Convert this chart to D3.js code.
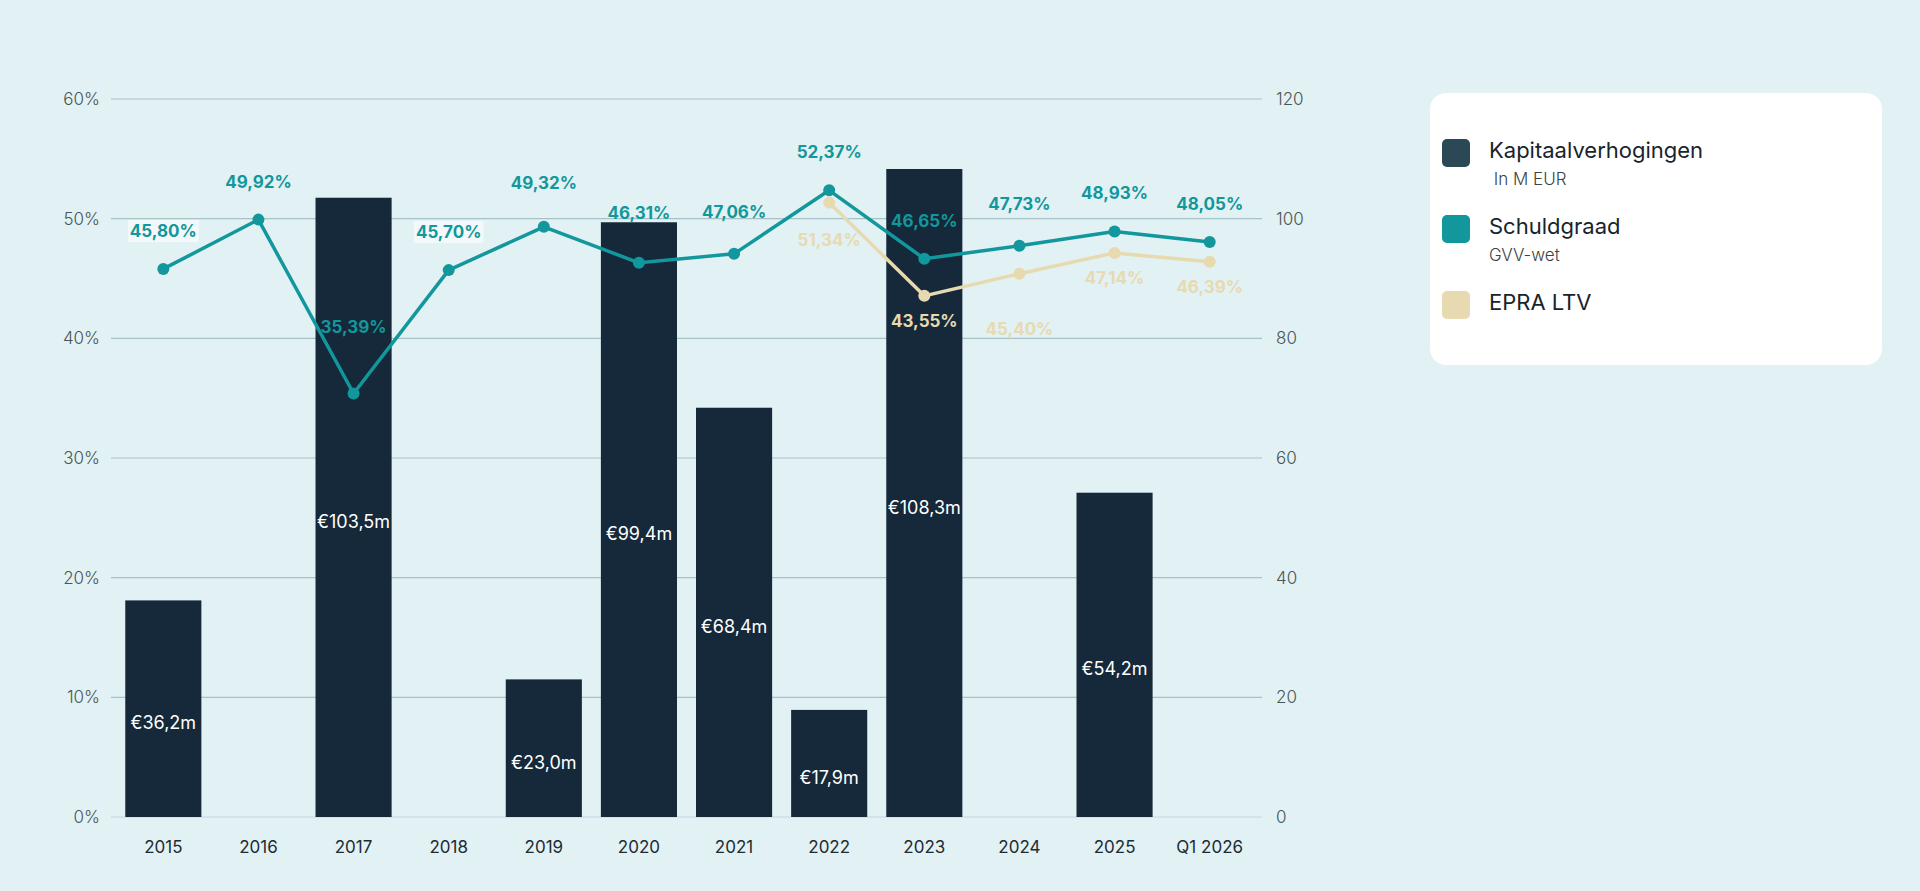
<!DOCTYPE html>
<html>
<head>
<meta charset="utf-8">
<script src="https://cdn.jsdelivr.net/npm/d3@7"></script>
<style>
  html, body { margin: 0; padding: 0; background: #e2f1f3; }
  #chart { width: 1920px; height: 891px; }
  text { font-family: Inter, "Noto Sans", sans-serif; }
</style>
</head>
<body>
<div id="chart"></div>
<script>
// data
const years = ['2015', '2016', '2017', '2018', '2019', '2020', '2021', '2022', '2023', '2024', '2025', 'Q1 2026'];
const kapitaal = [36.2, null, 103.5, null, 23.0, 99.4, 68.4, 17.9, 108.3, null, 54.2, null];
const schuldgraad = [45.80, 49.92, 35.39, 45.70, 49.32, 46.31, 47.06, 52.37, 46.65, 47.73, 48.93, 48.05];
const epraLtv = [null, null, null, null, null, null, null, 51.34, 43.55, 45.40, 47.14, 46.39];
const leftTicks = [0, 10, 20, 30, 40, 50, 60];
const rightTicks = [0, 20, 40, 60, 80, 100, 120];

// layout: extra label shifts (px) where the original moved labels apart
const schuldShift = { '2017': -28, '2019': -6, '2020': -12, '2021': -4, '2024': -4 };
const epraShift = { '2022': 12, '2024': 30 };
const boxedLabels = ['2015', '2018'];

const colors = {
  bar: '#15293a',
  teal: '#11979c',
  beige: '#e7dab0',
  grid: '#a8c3c7',
  tick: '#4a5558',
  axisText: '#1d2b33'
};

const fmt = v => v.toFixed(2).replace('.', ',') + '%';
const fmtM = v => '€' + v.toFixed(1).replace('.', ',') + 'm';

const W = 1920, H = 891;
const plot = { left: 111, right: 1262, top: 99, bottom: 817 };

const svg = d3.select('#chart').append('svg')
  .attr('width', W).attr('height', H);

const x = d3.scaleBand()
  .domain(years)
  .range([plot.left, plot.right])
  .paddingInner(0.2)
  .paddingOuter(0.15);

const yL = d3.scaleLinear().domain([0, 60]).range([plot.bottom, plot.top]);
const yR = d3.scaleLinear().domain([0, 120]).range([plot.bottom, plot.top]);

// gridlines
svg.append('g')
  .selectAll('line')
  .data(leftTicks)
  .join('line')
  .attr('x1', plot.left).attr('x2', plot.right)
  .attr('y1', d => yL(d)).attr('y2', d => yL(d))
  .attr('stroke', (d, i) => i === 0 ? '#c2d8db' : colors.grid)
  .attr('stroke-width', 1.2);

// left axis
const axL = svg.append('g')
  .attr('transform', `translate(${plot.left},0)`)
  .call(d3.axisLeft(yL).tickValues(leftTicks).tickSize(0).tickPadding(11).tickFormat(d => d + '%'));
axL.select('.domain').remove();
axL.selectAll('text')
  .attr('fill', colors.tick)
  .style('font-size', '17px')
  .style('font-weight', 300);

// right axis
const axR = svg.append('g')
  .attr('transform', `translate(${plot.right},0)`)
  .call(d3.axisRight(yR).tickValues(rightTicks).tickSize(0).tickPadding(14));
axR.select('.domain').remove();
axR.selectAll('text')
  .attr('fill', colors.tick)
  .style('font-size', '17px')
  .style('font-weight', 300);

// bottom axis
const axB = svg.append('g')
  .attr('transform', `translate(0,${plot.bottom})`)
  .call(d3.axisBottom(x).tickSize(0).tickPadding(24));
axB.select('.domain').remove();
axB.selectAll('text')
  .attr('fill', colors.axisText)
  .style('font-size', '17px')
  .style('font-weight', 400);

// bars
const barData = years.map((y, i) => ({ year: y, value: kapitaal[i] })).filter(d => d.value != null);

svg.append('g')
  .selectAll('rect')
  .data(barData)
  .join('rect')
  .attr('x', d => x(d.year))
  .attr('y', d => yR(d.value))
  .attr('width', x.bandwidth())
  .attr('height', d => plot.bottom - yR(d.value))
  .attr('fill', colors.bar);

svg.append('g')
  .selectAll('text')
  .data(barData)
  .join('text')
  .attr('x', d => x(d.year) + x.bandwidth() / 2)
  .attr('y', d => (yR(d.value) + plot.bottom) / 2 + 14)
  .attr('text-anchor', 'middle')
  .attr('dominant-baseline', 'central')
  .attr('fill', '#ffffff')
  .style('font-size', '18px')
  .text(d => fmtM(d.value));

// lines
const cx = d => x(d.year) + x.bandwidth() / 2;
const schuldData = years.map((y, i) => ({ year: y, value: schuldgraad[i] }));
const epraData = years.map((y, i) => ({ year: y, value: epraLtv[i] })).filter(d => d.value != null);

const line = d3.line().x(cx).y(d => yL(d.value));

function drawSeries(data, color) {
  const g = svg.append('g');
  g.append('path')
    .datum(data)
    .attr('d', line)
    .attr('fill', 'none')
    .attr('stroke', color)
    .attr('stroke-width', 3.5)
    .attr('stroke-linejoin', 'round');
  g.selectAll('circle')
    .data(data)
    .join('circle')
    .attr('cx', cx)
    .attr('cy', d => yL(d.value))
    .attr('r', 6)
    .attr('fill', color);
}

drawSeries(epraData, colors.beige);
drawSeries(schuldData, colors.teal);

// line labels
const labels = svg.append('g');

schuldData.forEach(d => {
  const ly = yL(d.value) - 38 + (schuldShift[d.year] || 0);
  const t = labels.append('text')
    .attr('x', cx(d))
    .attr('y', ly)
    .attr('text-anchor', 'middle')
    .attr('dominant-baseline', 'central')
    .attr('fill', colors.teal)
    .style('font-size', '17px')
    .style('font-weight', 700)
    .text(fmt(d.value));
  if (boxedLabels.includes(d.year)) {
    const bb = t.node().getBBox();
    labels.insert('rect', () => t.node())
      .attr('x', bb.x - 2).attr('y', bb.y - 1)
      .attr('width', bb.width + 4).attr('height', bb.height + 2)
      .attr('fill', '#ffffff').attr('opacity', 0.6);
  }
});

epraData.forEach(d => {
  labels.append('text')
    .attr('x', cx(d))
    .attr('y', yL(d.value) + 25 + (epraShift[d.year] || 0))
    .attr('text-anchor', 'middle')
    .attr('dominant-baseline', 'central')
    .attr('fill', colors.beige)
    .style('font-size', '17px')
    .style('font-weight', 700)
    .text(fmt(d.value));
});

// legend
const legend = svg.append('g').attr('transform', 'translate(1430,93)');
legend.append('rect')
  .attr('width', 452).attr('height', 272)
  .attr('rx', 16)
  .attr('fill', '#ffffff');

const legendItems = [
  { name: 'Kapitaalverhogingen', sub: ' In M EUR', color: '#2a4855' },
  { name: 'Schuldgraad', sub: 'GVV-wet', color: colors.teal },
  { name: 'EPRA LTV', sub: null, color: colors.beige }
];

legendItems.forEach((d, i) => {
  const g = legend.append('g').attr('transform', `translate(12,${46 + i * 76})`);
  g.append('rect')
    .attr('width', 28).attr('height', 28)
    .attr('rx', 5)
    .attr('fill', d.color);
  g.append('text')
    .attr('x', 47).attr('y', 11)
    .attr('dominant-baseline', 'central')
    .attr('fill', '#17242b')
    .style('font-size', '22px')
    .text(d.name);
  if (d.sub) {
    g.append('text')
      .attr('x', 47).attr('y', 40)
      .attr('dominant-baseline', 'central')
      .attr('fill', '#3a4448')
      .style('font-size', '17px')
      .style('font-weight', 300)
      .style('white-space', 'pre')
      .attr('xml:space', 'preserve')
      .text(d.sub);
  }
});
</script>
</body>
</html>
